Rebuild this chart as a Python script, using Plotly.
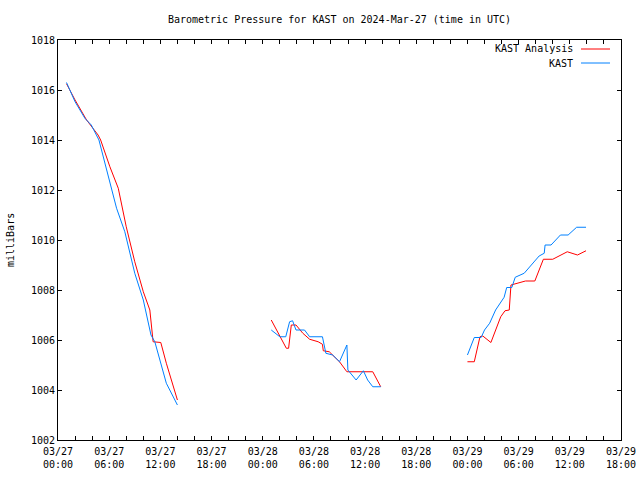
import plotly.graph_objects as go

# ---- data ----
analysis_seg1_t = ["2024-03-27 01:00", "2024-03-27 02:00", "2024-03-27 03:21", "2024-03-27 04:42",
                   "2024-03-27 05:00", "2024-03-27 06:05", "2024-03-27 07:04", "2024-03-27 08:00",
                   "2024-03-27 09:00", "2024-03-27 10:00", "2024-03-27 10:46", "2024-03-27 11:09",
                   "2024-03-27 12:03", "2024-03-27 12:42", "2024-03-27 14:00"]
analysis_seg1_p = [1016.25, 1015.6, 1014.8, 1014.2, 1014.0, 1012.93, 1012.07, 1010.53,
                   1009.13, 1007.93, 1007.2, 1005.93, 1005.9, 1005.07, 1003.6]

analysis_seg2_t = ["2024-03-28 01:00", "2024-03-28 02:46", "2024-03-28 03:02", "2024-03-28 03:21",
                   "2024-03-28 03:54", "2024-03-28 04:42", "2024-03-28 05:30", "2024-03-28 06:30",
                   "2024-03-28 07:00", "2024-03-28 07:06", "2024-03-28 07:48", "2024-03-28 09:00",
                   "2024-03-28 09:52", "2024-03-28 12:54", "2024-03-28 13:50"]
analysis_seg2_p = [1006.8, 1005.67, 1005.67, 1006.6, 1006.6, 1006.27, 1006.03, 1005.93,
                   1005.83, 1005.57, 1005.53, 1005.13, 1004.73, 1004.73, 1004.13]

analysis_seg3_t = ["2024-03-29 00:00", "2024-03-29 00:48", "2024-03-29 01:28", "2024-03-29 01:48",
                   "2024-03-29 02:45", "2024-03-29 03:54", "2024-03-29 04:24", "2024-03-29 04:54",
                   "2024-03-29 05:06", "2024-03-29 05:30", "2024-03-29 06:48", "2024-03-29 07:54",
                   "2024-03-29 08:54", "2024-03-29 10:00", "2024-03-29 11:42", "2024-03-29 12:54",
                   "2024-03-29 13:54"]
analysis_seg3_p = [1005.13, 1005.13, 1006.13, 1006.16, 1005.9, 1006.93, 1007.17, 1007.2,
                   1008.2, 1008.24, 1008.36, 1008.36, 1009.23, 1009.23, 1009.53, 1009.4, 1009.57]

kast_seg1_t = ["2024-03-27 01:00", "2024-03-27 02:00", "2024-03-27 03:09", "2024-03-27 03:54",
               "2024-03-27 04:48", "2024-03-27 05:54", "2024-03-27 06:52", "2024-03-27 07:50",
               "2024-03-27 09:00", "2024-03-27 10:00", "2024-03-27 10:54", "2024-03-27 11:21",
               "2024-03-27 12:42", "2024-03-27 14:00"]
kast_seg1_p = [1016.3, 1015.53, 1014.87, 1014.6, 1014.0, 1012.53, 1011.27, 1010.33,
               1008.67, 1007.6, 1006.2, 1005.93, 1004.27, 1003.4]

kast_seg2_t = ["2024-03-28 01:00", "2024-03-28 02:00", "2024-03-28 02:42", "2024-03-28 03:09",
               "2024-03-28 03:30", "2024-03-28 03:54", "2024-03-28 04:54", "2024-03-28 05:30",
               "2024-03-28 07:00", "2024-03-28 07:24", "2024-03-28 08:12", "2024-03-28 09:00",
               "2024-03-28 09:52", "2024-03-28 09:59", "2024-03-28 10:57", "2024-03-28 11:48",
               "2024-03-28 12:18", "2024-03-28 12:54", "2024-03-28 13:50"]
kast_seg2_p = [1006.4, 1006.13, 1006.13, 1006.73, 1006.77, 1006.4, 1006.4, 1006.13,
               1006.13, 1005.47, 1005.4, 1005.13, 1005.8, 1004.8, 1004.4, 1004.77,
               1004.4, 1004.13, 1004.13]

kast_seg3_t = ["2024-03-29 00:00", "2024-03-29 00:48", "2024-03-29 01:36", "2024-03-29 02:00",
               "2024-03-29 02:36", "2024-03-29 03:18", "2024-03-29 04:18", "2024-03-29 04:36",
               "2024-03-29 05:12", "2024-03-29 05:36", "2024-03-29 06:39", "2024-03-29 08:24",
               "2024-03-29 09:00", "2024-03-29 09:06", "2024-03-29 09:48", "2024-03-29 10:54",
               "2024-03-29 11:48", "2024-03-29 12:48", "2024-03-29 13:54"]
kast_seg3_p = [1005.4, 1006.1, 1006.1, 1006.4, 1006.67, 1007.2, 1007.71, 1008.1,
               1008.1, 1008.51, 1008.67, 1009.36, 1009.47, 1009.8, 1009.8, 1010.2,
               1010.2, 1010.51, 1010.51]

series_names = ["KAST Analysis", "KAST"]
series_colors = ["#ff0000", "#0080ff"]
title_text = "Barometric Pressure for KAST on 2024-Mar-27 (time in UTC)"
y_label = "milliBars"


def join(segs):
    xs, ys = [], []
    for t, p in segs:
        if xs:
            xs.append(None)
            ys.append(None)
        xs += t
        ys += p
    return xs, ys


ax, ay = join([(analysis_seg1_t, analysis_seg1_p), (analysis_seg2_t, analysis_seg2_p),
               (analysis_seg3_t, analysis_seg3_p)])
kx, ky = join([(kast_seg1_t, kast_seg1_p), (kast_seg2_t, kast_seg2_p),
               (kast_seg3_t, kast_seg3_p)])

FONT = "DejaVu Sans Mono"
fig = go.Figure()
fig.add_trace(go.Scatter(x=ax, y=ay, mode="lines", name=series_names[0],
                         line=dict(color=series_colors[0], width=1), connectgaps=False))
fig.add_trace(go.Scatter(x=kx, y=ky, mode="lines", name=series_names[1],
                         line=dict(color=series_colors[1], width=1), connectgaps=False))

W, H = 640, 480
L, R, T, B = 58, 19, 40, 40
pw, ph = W - L - R, H - T - B


def px(xp):
    return (xp - L) / pw


def py(yp):
    return (H - B - yp) / ph


fig.update_layout(
    width=W, height=H, margin=dict(l=L, r=R, t=T, b=B, autoexpand=False),
    paper_bgcolor="white", plot_bgcolor="white",
    font=dict(family=FONT, size=10, color="black"),
    showlegend=False,
    title=dict(text=title_text, x=0.5, xref="paper", xanchor="center",
               y=1 - 19 / H, yref="container", yanchor="middle",
               font=dict(family=FONT, size=10, color="black")),
)
fig.update_xaxes(
    type="date", range=["2024-03-27 00:00", "2024-03-29 18:00"],
    tick0="2024-03-27 00:00", dtick=6 * 3600 * 1000, tickformat="%m/%d<br>%H:%M",
    ticks="inside", ticklen=4, tickcolor="black", tickwidth=1,
    showline=True, linecolor="black", linewidth=1, mirror="allticks",
    showgrid=False, zeroline=False, automargin=False, ticklabelstandoff=2,
    minor=dict(dtick=2 * 3600 * 1000, ticks="inside", ticklen=4, tickcolor="black", showgrid=False),
    tickfont=dict(family=FONT, size=10, color="black"),
)
fig.update_yaxes(
    range=[1002, 1018], dtick=2, tick0=1002,
    ticks="inside", ticklen=4, tickcolor="black", tickwidth=1,
    showline=True, linecolor="black", linewidth=1, mirror="allticks",
    showgrid=False, zeroline=False, automargin=False,
    tickfont=dict(family=FONT, size=10, color="black"),
)

# y-axis label
fig.add_annotation(text=y_label, xref="paper", yref="paper", x=px(10), y=0.5,
                   textangle=-90, showarrow=False, xanchor="center", yanchor="middle",
                   font=dict(family=FONT, size=10, color="black"))

# legend (gnuplot style: text then line sample)
for i, (name, col) in enumerate(zip(series_names, series_colors)):
    yy = 49 + 14 * i
    fig.add_annotation(text=name, xref="paper", yref="paper", x=px(575), y=py(yy),
                       xanchor="right", yanchor="middle", showarrow=False,
                       font=dict(family=FONT, size=10, color="black"))
    fig.add_shape(type="line", xref="paper", yref="paper", x0=px(581), x1=px(610),
                  y0=py(yy), y1=py(yy), line=dict(color=col, width=1))

fig.write_html("out.html",
               post_script="document.body.style.margin='0';document.body.style.overflow='hidden';")
